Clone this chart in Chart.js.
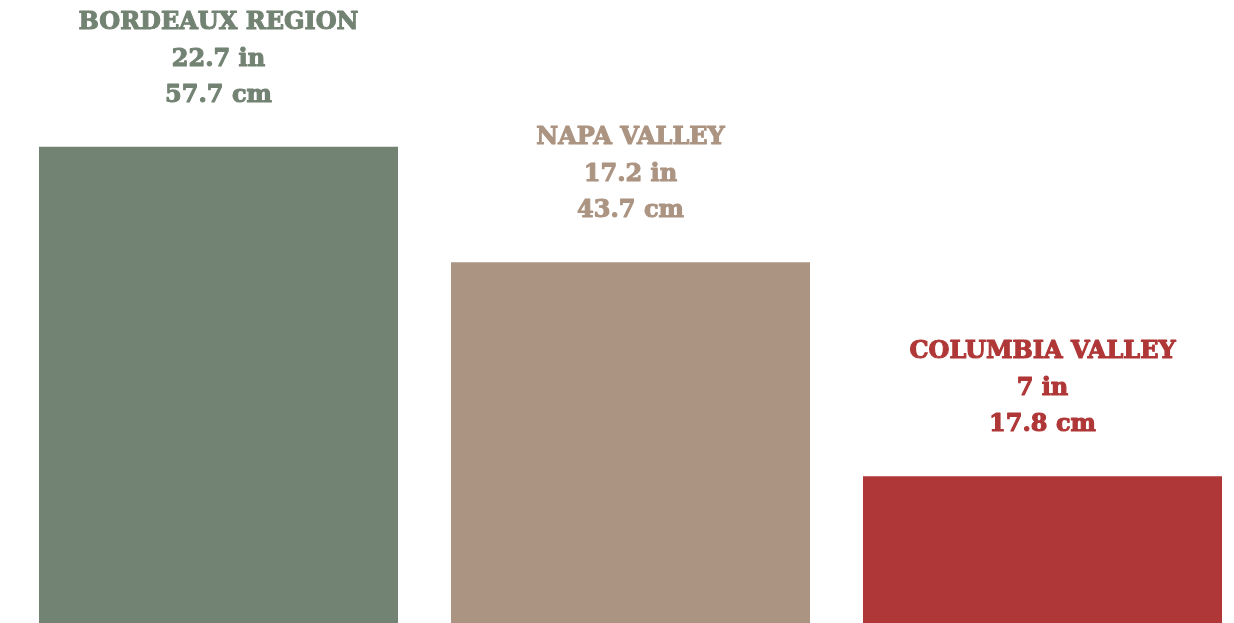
<!DOCTYPE html>
<html>
<head>
<meta charset="utf-8">
<script src="https://cdn.jsdelivr.net/npm/chart.js@4/dist/chart.umd.min.js"></script>
<style>
  html, body { margin: 0; padding: 0; background: #fff; overflow: hidden; }
  #wrap { position: relative; width: 1249px; height: 623px; }
</style>
</head>
<body>
<div id="wrap"><canvas id="rain"></canvas></div>
<script>
const regions = ["BORDEAUX REGION", "NAPA VALLEY", "COLUMBIA VALLEY"];
const inches = [22.7, 17.2, 7];
const centimeters = [57.7, 43.7, 17.8];
const colors = ["#738373", "#ac9482", "#b03737"];

// three-line caption over each bar: name, inches, centimetres
const captions = {
  id: "captions",
  afterDatasetsDraw(chart) {
    const ctx = chart.ctx;
    const meta = chart.getDatasetMeta(0);
    ctx.save();
    ctx.font = "bold 24px 'DejaVu Serif'";
    ctx.textAlign = "center";
    ctx.textBaseline = "middle";
    ctx.lineWidth = 1.1;
    ctx.lineJoin = "round";
    meta.data.forEach((bar, i) => {
      const lines = [regions[i], inches[i] + " in", centimeters[i] + " cm"];
      ctx.fillStyle = colors[i];
      ctx.strokeStyle = colors[i];
      lines.forEach((t, j) => {
        const y = bar.y - 51 - (2 - j) * 36.5;
        ctx.fillText(t, bar.x, y);
        ctx.strokeText(t, bar.x, y);
      });
    });
    ctx.restore();
  }
};

new Chart(document.getElementById("rain"), {
  type: "bar",
  data: {
    labels: regions,
    datasets: [{
      data: inches,
      backgroundColor: colors,
      borderWidth: 0,
      barPercentage: 0.8714,
      categoryPercentage: 1
    }]
  },
  options: {
    responsive: true,
    maintainAspectRatio: false,
    animation: false,
    layout: { padding: { left: 12.5, right: 0.5, top: 0, bottom: 0 } },
    plugins: { legend: { display: false }, tooltip: { enabled: false } },
    scales: {
      x: { display: false },
      y: { display: false, min: 0, max: 29.7 }
    }
  },
  plugins: [captions]
});
</script>
</body>
</html>
